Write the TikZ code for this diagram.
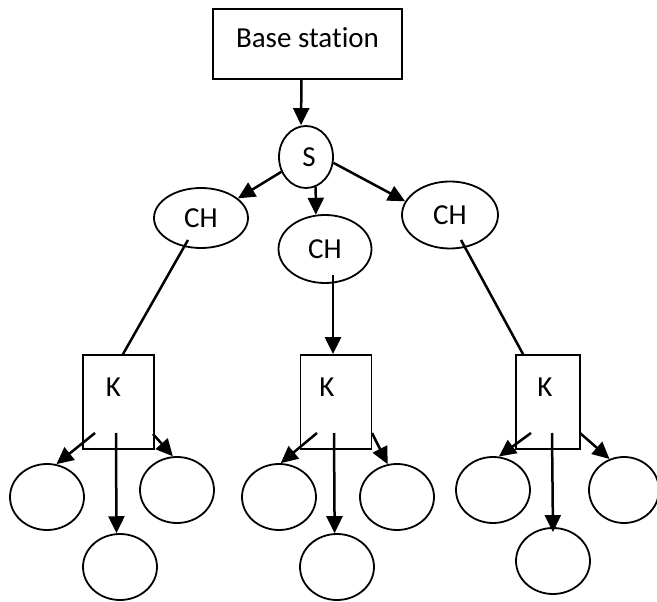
\documentclass[tikz,border=0pt]{standalone}
\usepackage{fontspec}
\setmainfont[Ligatures=NoCommon]{Carlito}
\usetikzlibrary{shapes.geometric,arrows.meta}
\begin{document}
\begin{tikzpicture}[x=1pt,y=-1pt,
  font=\fontsize{29}{34}\selectfont,
  ell/.style={draw,ellipse,line width=1.8pt,inner sep=0pt},
  kbox/.style={draw,rectangle,line width=1.8pt,inner sep=0pt,minimum width=71pt,text height=41pt,text depth=53pt},
  arr/.style={line width=2.5pt,-{Triangle[length=17pt,width=16pt]}},
  ln/.style={line width=2.5pt}]
\useasboundingbox (0,0) rectangle (657,602);
% base station
\node[draw,rectangle,line width=1.8pt,inner sep=0pt,minimum width=189pt,text height=39pt,text depth=31pt] (base) at (307.5,44) {Base station};
\node[ell,minimum width=54pt,minimum height=62pt] (S) at (306,157) {\raisebox{-6pt}{\hspace*{6pt}S}};
\node[ell,minimum width=94pt,minimum height=60pt] (ch1) at (201,218) {\raisebox{-6pt}{CH}};
\node[ell,minimum width=93pt,minimum height=68pt] (ch2) at (325,249) {\raisebox{-3pt}{CH}};
\node[ell,minimum width=96pt,minimum height=67pt] (ch3) at (450,215) {CH};
% K boxes
\node[kbox] (k1) at (118.5,402) {\hspace*{-10pt}K};
\node[kbox] (k2) at (336,402) {\hspace*{-18pt}K};
\node[kbox,minimum width=64pt] (k3) at (548,402) {\hspace*{-6pt}K};
% leaf ellipses
\tikzset{leaf/.style={ell,minimum width=74pt,minimum height=66pt}}
\node[leaf] (c11) at (47,497) {};
\node[leaf] (c12) at (120,567) {};
\node[leaf] (c13) at (177,490) {};
\node[leaf] (c21) at (279,497) {};
\node[leaf] (c22) at (337,567) {};
\node[leaf] (c23) at (397,497) {};
\node[leaf] (c31) at (493,490) {};
\node[leaf] (c32) at (553,561) {};
\node[leaf,minimum width=70pt] (c33) at (624,490) {};
% free start points
\coordinate (h1) at (188,240);
\coordinate (h2) at (333,275);
\coordinate (h3) at (461,240);
\coordinate (a11) at (95,433);
\coordinate (a12) at (116,433);
\coordinate (a13) at (153,434);
\coordinate (a21) at (317,433);
\coordinate (a22) at (334,433);
\coordinate (a23) at (372,433);
\coordinate (a31) at (531,433);
\coordinate (a32) at (552,433);
\coordinate (a33) at (580,433);
% connectors
\draw[arr] ([xshift=-6pt]base.south) -- ([xshift=-5pt]S.north);
\draw[arr] (S.211) -- (ch1.28);
\draw[arr] (S.288) -- (ch2.105);
\draw[arr] (S.348) -- (ch3.163);
\draw[ln] (h1) -- ([xshift=4.5pt]k1.north);
\draw[arr] (h2) -- ([xshift=-3pt]k2.north);
\draw[ln] (h3) -- ([xshift=-25pt]k3.north);
\draw[arr] (a11) -- (c11.74);
\draw[arr] (a12) -- (c12.96);
\draw[arr] (a13) -- (c13.97);
\draw[arr] (a21) -- (c21.87);
\draw[arr] (a22) -- (c22.94);
\draw[arr] (a23) -- (c23.106);
\draw[arr] (a31) -- (c31.80);
\draw[arr] (a32) -- ([yshift=-5pt]c32.north);
\draw[arr] (a33) -- (c33.115);
\end{tikzpicture}
\end{document}
